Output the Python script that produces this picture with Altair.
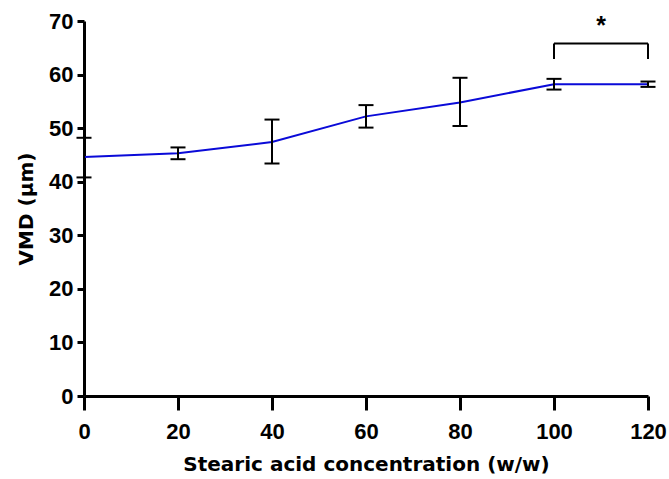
import altair as alt
import pandas as pd

conc = [0, 20, 40, 60, 80, 100, 120]
vmd_mean = [44.6, 45.3, 47.4, 52.2, 54.8, 58.2, 58.2]
vmd_low = [40.8, 44.2, 43.4, 50.1, 50.4, 57.2, 57.7]
vmd_high = [48.2, 46.4, 51.6, 54.3, 59.4, 59.2, 58.7]

# significance bracket between 100 and 120
bracket_x = [100, 120]
bracket_top = 65.8
bracket_bottom = 62.9
star_y = 69.0

df = pd.DataFrame({"conc": conc, "mean": vmd_mean, "low": vmd_low, "high": vmd_high})

FONT = "Liberation Sans"
TFONT = "DejaVu Sans"
xscale = alt.Scale(domain=[0, 120], nice=False)
yscale = alt.Scale(domain=[0, 70], nice=False)

xaxis = alt.Axis(
    values=[0, 20, 40, 60, 80, 100, 120], grid=False,
    domainWidth=3, domainColor="black", tickWidth=3, tickColor="black", tickSize=14,
    labelFont=FONT, labelFontSize=22, labelFontWeight="bold", labelColor="black",
    labelPadding=11, labelFlush=False,
    title="Stearic acid concentration (w/w)", titleFont=TFONT, titleFontSize=20,
    titleFontWeight="bold", titleColor="black", titlePadding=12,
)
yaxis = alt.Axis(
    values=[0, 10, 20, 30, 40, 50, 60, 70], grid=False,
    domainWidth=3, domainColor="black", tickWidth=3, tickColor="black", tickSize=7,
    labelFont=FONT, labelFontSize=22, labelFontWeight="bold", labelColor="black",
    labelPadding=4, labelFlush=False,
    title="VMD (μm)", titleFont=TFONT, titleFontSize=20,
    titleFontWeight="bold", titleColor="black", titlePadding=12,
)

base = alt.Chart(df)

line = base.mark_line(color="#0a0ad8", strokeWidth=2).encode(
    x=alt.X("conc:Q", scale=xscale, axis=xaxis),
    y=alt.Y("mean:Q", scale=yscale, axis=yaxis),
)

err = base.mark_rule(color="black", strokeWidth=2).encode(
    x="conc:Q", y="low:Q", y2="high:Q"
)
cap_lo = base.mark_rule(color="black", strokeWidth=2, xOffset=-7.5, x2Offset=7.5).encode(
    x="conc:Q", x2="conc:Q", y="low:Q"
)
cap_hi = base.mark_rule(color="black", strokeWidth=2, xOffset=-7.5, x2Offset=7.5).encode(
    x="conc:Q", x2="conc:Q", y="high:Q"
)

bdf = pd.DataFrame({
    "x1": [bracket_x[0], bracket_x[0], bracket_x[1]],
    "x2": [bracket_x[1], bracket_x[0], bracket_x[1]],
    "y1": [bracket_top, bracket_bottom, bracket_bottom],
    "y2": [bracket_top, bracket_top, bracket_top],
})
bracket = alt.Chart(bdf).mark_rule(color="black", strokeWidth=2).encode(
    x="x1:Q", x2="x2:Q", y="y1:Q", y2="y2:Q"
)
sdf = pd.DataFrame({"x": [sum(bracket_x) / 2], "y": [star_y], "t": ["*"]})
star = alt.Chart(sdf).mark_text(font=FONT, fontSize=25, fontWeight="bold", color="black", baseline="middle").encode(
    x="x:Q", y="y:Q", text="t:N"
)

chart = alt.layer(line, err, cap_lo, cap_hi, bracket, star).properties(
    width=564, height=375,
    autosize=alt.AutoSizeParams(type="none"),
    padding={"left": 84, "top": 21, "right": 21, "bottom": 83},
).configure_view(stroke=None)

chart.save("out.html", embed_options={"renderer": "svg", "actions": False})
